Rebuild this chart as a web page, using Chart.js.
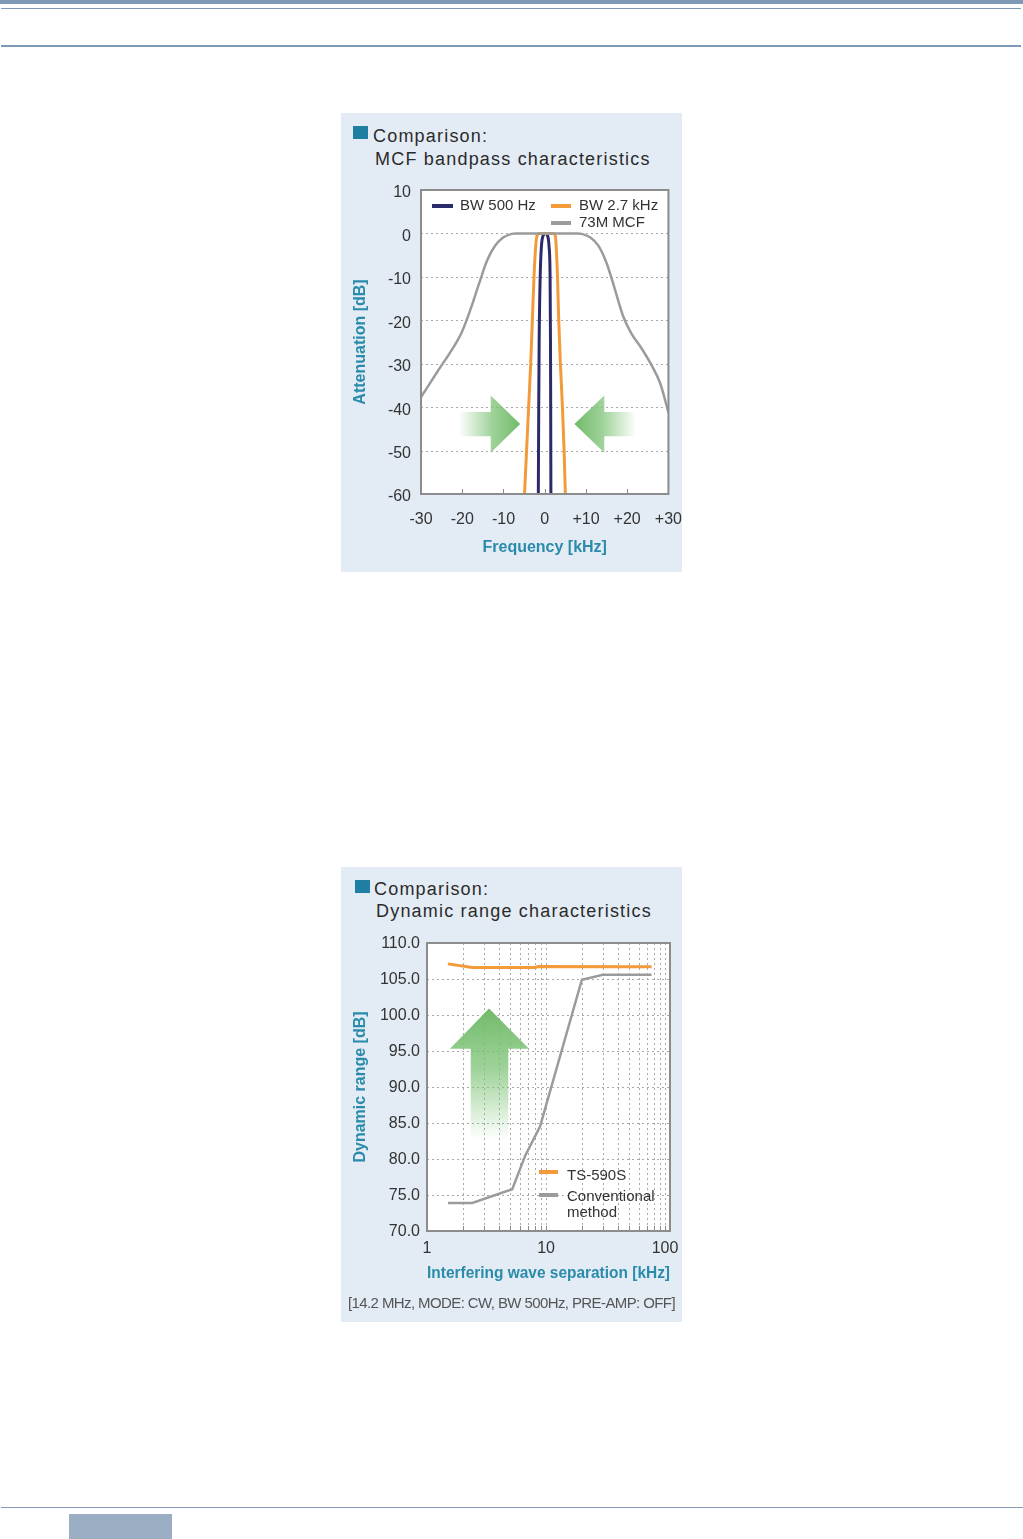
<!DOCTYPE html>
<html>
<head>
<meta charset="utf-8">
<script src="https://cdn.jsdelivr.net/npm/chart.js@4.4.1/dist/chart.umd.min.js"></script>
<style>
body { margin: 0; background: #fff; font-family: 'Liberation Sans', Arial, Helvetica, sans-serif; }
#page { position: relative; width: 1023px; height: 1539px; overflow: hidden; }
.rule { position: absolute; background: #7f9ab6; }
.panel { position: absolute; background: #e3ecf4; }
.sq { position: absolute; background: #1f7fa2; }
.ttl { position: absolute; font-size: 18px; line-height: 23px; letter-spacing: 1.2px; color: #2b2b2b; white-space: nowrap; }
.note { position: absolute; font-size: 15px; line-height: 15px; letter-spacing: -0.6px; color: #555; white-space: nowrap; }
canvas { position: absolute; }
</style>
</head>
<body>
<div id="page">
  <div class="rule" style="left:0;top:0;width:1023px;height:4px"></div>
  <div class="rule" style="left:1px;top:8px;width:1020px;height:1px"></div>
  <div class="rule" style="left:1px;top:45px;width:1020px;height:2px"></div>

  <div class="panel" style="left:341px;top:113px;width:341px;height:459px"></div>
  <div class="sq" style="left:353px;top:126px;width:15px;height:13px"></div>
  <div class="ttl" style="left:373px;top:125px">Comparison:</div>
  <div class="ttl" style="left:375px;top:148px">MCF bandpass characteristics</div>
  <canvas id="bandpass" width="341" height="459" style="left:341px;top:113px"></canvas>

  <div class="panel" style="left:341px;top:867px;width:341px;height:455px"></div>
  <div class="sq" style="left:355px;top:880px;width:15px;height:13px"></div>
  <div class="ttl" style="left:374px;top:878px">Comparison:</div>
  <div class="ttl" style="left:376px;top:900px">Dynamic range characteristics</div>
  <canvas id="dynrange" width="341" height="455" style="left:341px;top:867px"></canvas>
  <div class="note" style="left:348px;top:1295px">[14.2 MHz, MODE: CW, BW 500Hz, PRE-AMP: OFF]</div>

  <div class="rule" style="left:1px;top:1507px;width:1022px;height:1px"></div>
  <div style="position:absolute;left:69px;top:1514px;width:103px;height:25px;background:#9caec4"></div>
</div>

<script>
// ---- MCF bandpass chart (kHz / dB) ----
const freqTicks = [-30, -20, -10, 0, 10, 20, 30];
const attTicks = [10, 0, -10, -20, -30, -40, -50, -60];

const mcfFreq = [-30, -26, -22, -20, -18, -16, -14, -12, -10, -8, -7, 8, 9, 11, 13, 15, 17, 19, 21, 23.5, 26, 28, 30];
const mcfAtt = [-37.7, -31.8, -26.0, -22.5, -17.5, -11.8, -6.3, -2.8, -0.9, -0.1, 0, 0, -0.1, -0.9, -2.8, -6.8, -12.8, -19.0, -23.0, -26.5, -30.5, -34.5, -41.2];

const bw27Freq = [-4.9, -4.4, -3.9, -3.4, -3.0, -2.6, -2.15, -1.9, -1.3, 0.4, 2.1, 2.6, 2.75, 3.1, 3.4, 3.8, 4.3, 4.7, 5.0];
const bw27Att = [-60, -50, -40, -30, -20, -10, -2.5, -0.7, 0, 0, 0, -0.7, -2.5, -10, -20, -30, -40, -50, -60];

const bw500Freq = [-1.55, -1.45, -1.35, -1.1, -0.8, -0.45, 0.15, 0.75, 1.05, 1.3, 1.4, 1.45, 1.5];
const bw500Att = [-60, -40, -25, -10, -3, -0.7, 0, -0.7, -3, -10, -25, -40, -60];

// green arrows, in data units
const arrowRight = [[-20.8, -41.1], [-13.1, -41.1], [-13.1, -37.3], [-5.95, -43.9], [-13.1, -50.5], [-13.1, -46.7], [-20.8, -46.7]];
const arrowLeft = [[22.2, -41.1], [14.45, -41.1], [14.45, -37.3], [7.2, -43.9], [14.45, -50.5], [14.45, -46.7], [22.2, -46.7]];

// ---- Dynamic range chart (kHz / dB) ----
const sepTicks = [1, 2, 3, 4, 5, 6, 7, 8, 9, 10, 20, 30, 40, 50, 60, 70, 80, 90, 100];
const sepLabels = [1, 10, 100];
const rangeTicks = [110, 105, 100, 95, 90, 85, 80, 75, 70];

const tsSep = [1.5, 2.4, 8.2, 8.6, 77];
const tsRange = [107.1, 106.6, 106.6, 106.75, 106.7];

const convSep = [1.5, 2.4, 5.2, 6.7, 8.9, 20, 30, 77];
const convRange = [73.9, 73.9, 75.8, 80.5, 84.5, 104.9, 105.6, 105.6];

const arrowUp = [[2.33, 82.6], [2.33, 95.3], [1.56, 95.3], [3.32, 100.9], [7.2, 95.3], [4.82, 95.3], [4.82, 82.6]];

const teal = '#2a8bab';
const navy = '#2b2a6b';
const orange = '#f39b3a';
const gray = '#9b9b9b';

Chart.defaults.font.family = "'Liberation Sans', Arial, Helvetica, sans-serif";
Chart.defaults.color = '#333';

function pairs(xs, ys) {
    return xs.map((x, i) => ({ x: x, y: ys[i] }));
}

function toPx(chart, p) {
    return [chart.scales.x.getPixelForValue(p[0]), chart.scales.y.getPixelForValue(p[1])];
}

const plotFrame = {
    id: 'plotFrame',
    beforeDatasetsDraw(chart, args, o) {
        const { ctx, chartArea: a, scales } = chart;
        ctx.save();
        ctx.fillStyle = '#fff';
        ctx.fillRect(a.left, a.top, a.width, a.height);

        // dotted grid
        ctx.strokeStyle = '#a9a9a9';
        ctx.lineWidth = 1;
        ctx.setLineDash([2, 3]);
        if (o.gridY) {
            scales.y.ticks.forEach(t => {
                const py = Math.round(scales.y.getPixelForValue(t.value)) + 0.5;
                if (py <= a.top + 2 || py >= a.bottom - 2) return;
                ctx.beginPath(); ctx.moveTo(a.left, py); ctx.lineTo(a.right, py); ctx.stroke();
            });
        }
        if (o.gridX) {
            scales.x.ticks.forEach(t => {
                const px = Math.round(scales.x.getPixelForValue(t.value)) + 0.5;
                if (px <= a.left + 2 || px >= a.right - 2) return;
                ctx.beginPath(); ctx.moveTo(px, a.top); ctx.lineTo(px, a.bottom); ctx.stroke();
            });
        }
        ctx.setLineDash([]);

        // arrows
        (o.arrows || []).forEach(ar => {
            const pts = ar.pts.map(p => toPx(chart, p));
            const f = toPx(chart, ar.from), t = toPx(chart, ar.to);
            const g = ctx.createLinearGradient(f[0], f[1], t[0], t[1]);
            g.addColorStop(0, 'rgba(125,195,118,0)');
            g.addColorStop(0.55, 'rgba(125,195,118,0.75)');
            g.addColorStop(1, 'rgba(112,186,104,1)');
            ctx.fillStyle = g;
            ctx.beginPath();
            pts.forEach((p, i) => i ? ctx.lineTo(p[0], p[1]) : ctx.moveTo(p[0], p[1]));
            ctx.closePath();
            ctx.fill();
        });
        ctx.restore();
    },
    afterDatasetsDraw(chart, args, o) {
        const { ctx, chartArea: a, scales } = chart;
        ctx.save();
        // small inward tick marks on the x axis
        ctx.strokeStyle = '#8c8c8c';
        ctx.lineWidth = 1;
        scales.x.ticks.forEach(t => {
            const px = Math.round(scales.x.getPixelForValue(t.value)) + 0.5;
            if (px <= a.left + 2 || px >= a.right - 2) return;
            ctx.beginPath(); ctx.moveTo(px, a.bottom); ctx.lineTo(px, a.bottom - 5); ctx.stroke();
        });
        ctx.lineWidth = 2;
        ctx.strokeRect(a.left, a.top, a.width, a.height);

        // legend
        ctx.font = "15px 'Liberation Sans', Arial, sans-serif";
        ctx.textBaseline = 'middle';
        ctx.fillStyle = '#333';
        (o.legend || []).forEach(it => {
            const ds = chart.data.datasets[it.ds];
            ctx.strokeStyle = ds.borderColor;
            ctx.lineWidth = 4;
            ctx.beginPath();
            ctx.moveTo(a.left + it.x, a.top + it.y);
            ctx.lineTo(a.left + it.x + it.len, a.top + it.y);
            ctx.stroke();
            const lines = it.lines || [ds.label];
            lines.forEach((s, i) => ctx.fillText(s, a.left + it.tx, a.top + it.ty + i * 16));
        });
        ctx.restore();
    }
};

function axisTitle(text, pad) {
    return { display: true, text: text, color: teal, font: { size: 16, weight: 'bold' }, padding: pad };
}

new Chart(document.getElementById('bandpass'), {
    type: 'line',
    data: {
        datasets: [
            { label: '73M MCF', data: pairs(mcfFreq, mcfAtt), borderColor: gray, borderWidth: 2.5, cubicInterpolationMode: 'monotone' },
            { label: 'BW 2.7 kHz', data: pairs(bw27Freq, bw27Att), borderColor: orange, borderWidth: 3, cubicInterpolationMode: 'monotone' },
            { label: 'BW 500 Hz', data: pairs(bw500Freq, bw500Att), borderColor: navy, borderWidth: 3, cubicInterpolationMode: 'monotone' }
        ]
    },
    options: {
        responsive: false,
        animation: false,
        events: [],
        layout: { padding: { top: 77, right: 13, left: 0, bottom: 0 } },
        elements: { point: { radius: 0 } },
        scales: {
            x: {
                type: 'linear', min: -30, max: 30,
                afterBuildTicks: s => { s.ticks = freqTicks.map(v => ({ value: v })); },
                afterFit: s => { s.height = 78; },
                grid: { display: false, drawTicks: true, tickLength: 16 },
                border: { display: false },
                ticks: { padding: 0, autoSkip: false, maxRotation: 0, font: { size: 16 }, callback: v => v > 0 ? '+' + v : String(v) },
                title: axisTitle('Frequency [kHz]', { top: 0, bottom: 15 })
            },
            y: {
                type: 'linear', min: -60, max: 10,
                afterBuildTicks: s => { s.ticks = attTicks.map(v => ({ value: v })); },
                afterFit: s => { s.width = 80; },
                grid: { display: false, drawTicks: false },
                border: { display: false },
                ticks: { padding: 10, labelOffset: 3, font: { size: 16 } },
                title: axisTitle('Attenuation [dB]', { top: 10, bottom: 0 })
            }
        },
        plugins: {
            legend: { display: false },
            tooltip: { enabled: false },
            plotFrame: {
                gridY: true,
                arrows: [
                    { pts: arrowRight, from: [-20.8, -43.9], to: [-5.95, -43.9] },
                    { pts: arrowLeft, from: [22.2, -43.9], to: [7.2, -43.9] }
                ],
                legend: [
                    { ds: 2, x: 11, y: 16, len: 21, tx: 39, ty: 16 },
                    { ds: 1, x: 130, y: 16, len: 20, tx: 158, ty: 16 },
                    { ds: 0, x: 130, y: 33, len: 20, tx: 158, ty: 33 }
                ]
            }
        }
    },
    plugins: [plotFrame]
});

new Chart(document.getElementById('dynrange'), {
    type: 'line',
    data: {
        datasets: [
            { label: 'TS-590S', data: pairs(tsSep, tsRange), borderColor: orange, borderWidth: 3 },
            { label: 'Conventional method', data: pairs(convSep, convRange), borderColor: gray, borderWidth: 2.5 }
        ]
    },
    options: {
        responsive: false,
        animation: false,
        events: [],
        layout: { padding: { top: 76, right: 12, left: 0, bottom: 0 } },
        elements: { point: { radius: 0 }, line: { tension: 0 } },
        scales: {
            x: {
                type: 'logarithmic', min: 1, max: 110,
                afterBuildTicks: s => { s.ticks = sepTicks.map(v => ({ value: v })); },
                afterFit: s => { s.height = 91; },
                grid: { display: false, drawTicks: true, tickLength: 8 },
                border: { display: false },
                ticks: { padding: 0, autoSkip: false, maxRotation: 0, font: { size: 16 }, callback: v => sepLabels.includes(v) ? String(v) : '' },
                title: axisTitle('Interfering wave separation [kHz]', { top: 0, bottom: 39 })
            },
            y: {
                type: 'linear', min: 70, max: 110,
                afterBuildTicks: s => { s.ticks = rangeTicks.map(v => ({ value: v })); },
                afterFit: s => { s.width = 86; },
                grid: { display: false, drawTicks: false },
                border: { display: false },
                ticks: { padding: 7, labelOffset: 1, font: { size: 16 }, callback: v => v.toFixed(1) },
                title: axisTitle('Dynamic range [dB]', { top: 10, bottom: 0 })
            }
        },
        plugins: {
            legend: { display: false },
            tooltip: { enabled: false },
            plotFrame: {
                gridX: true,
                gridY: true,
                arrows: [
                    { pts: arrowUp, from: [3.32, 82.6], to: [3.32, 100.9] }
                ],
                legend: [
                    { ds: 0, x: 112, y: 229, len: 19, tx: 140, ty: 233 },
                    { ds: 1, x: 112, y: 252, len: 19, tx: 140, ty: 254, lines: ['Conventional', 'method'] }
                ]
            }
        }
    },
    plugins: [plotFrame]
});
</script>
</body>
</html>
